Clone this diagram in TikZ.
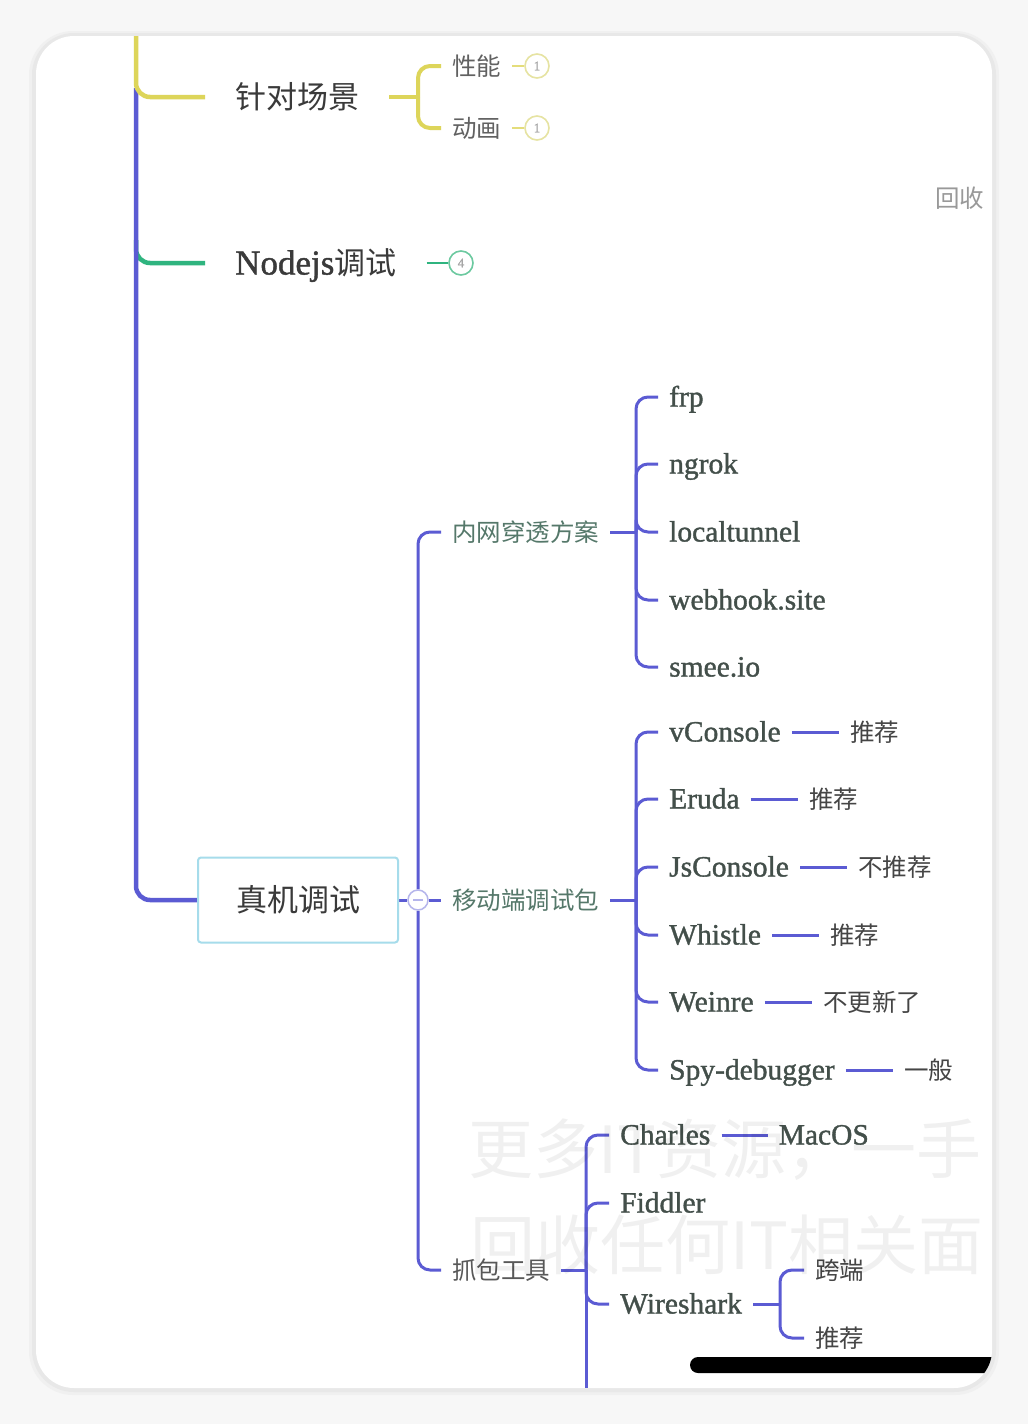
\documentclass[tikz,border=0pt]{standalone}
\usepackage{fontspec}
\setmainfont{Noto Sans CJK SC}
\newfontfamily\lat[FakeBold=1.2]{Liberation Serif}
\usetikzlibrary{positioning}
\pgfdeclarelayer{card}
\pgfdeclarelayer{wires}
\pgfsetlayers{card,wires,main}
\definecolor{mblue}{HTML}{5B5BD3}
\definecolor{myel}{HTML}{DDD55A}
\definecolor{mgrn}{HTML}{2FB47F}
\definecolor{topicgray}{HTML}{3A3A3A}
\definecolor{subgreen}{HTML}{55786A}
\definecolor{leafgray}{HTML}{434F4A}
\definecolor{notegray}{HTML}{454545}
\definecolor{boxline}{HTML}{A6DCEB}
\definecolor{ybadge}{HTML}{E6E3A2}
\definecolor{gbadge}{HTML}{6CC9A0}
\tikzset{
  topic/.style={font=\fontsize{31}{36}\selectfont, text=topicgray, anchor=west,
    inner xsep=30pt, inner ysep=0pt, text height=27pt, text depth=4pt},
  sub/.style={font=\fontsize{24.5}{28}\selectfont, text=notegray, anchor=west,
    inner xsep=11pt, inner ysep=0pt, text height=21.5pt, text depth=3pt},
  leaf/.style={font=\lat\fontsize{29.5}{34}\selectfont, text=leafgray, anchor=west,
    inner xsep=11pt, inner ysep=0pt, text height=19pt, text depth=0pt},
  note/.style={sub},
  box/.style={draw=boxline, line width=2pt, rounded corners=3pt, fill=white,
    minimum width=200pt, minimum height=85pt, font=\fontsize{31}{36}\selectfont,
    text=topicgray},
  badge/.style={circle, draw=#1, line width=1.6pt, fill=white, minimum size=24pt,
    inner sep=0pt, font=\lat\fontsize{13}{14}\selectfont, text=gray!70},
  fold/.style={circle, draw=mblue!45, line width=1.5pt, fill=white, minimum size=20pt,
    inner sep=0pt},
  wmark/.style={font=\fontsize{65}{70}\selectfont, text=black, text opacity=0.06,
    anchor=west, inner sep=0pt},
  trunk/.style={line width=4.5pt, rounded corners=14pt},
  wire/.style={mblue, line width=3pt, rounded corners=12pt},
}
\begin{document}
\begin{tikzpicture}[x=1pt,y=-1pt]
\useasboundingbox (0,0) rectangle (1028,1424);

% phone card
\begin{pgfonlayer}{card}
  \fill[black!3] (0,0) rectangle (1028,1424);
  \fill[black!6,rounded corners=44] (29,31) rectangle (999,1395);
  \fill[black!9,rounded corners=42] (32,33) rectangle (996,1392);
  \fill[white,rounded corners=38] (36,36) rectangle (992,1388);
\end{pgfonlayer}

% first level
\node[topic] (scene) at (205,97) {针对场景};
\node[topic] (nodejs) at (205,263) {{\lat\fontsize{35}{36}\selectfont Nodejs}调试};
\node[box] (real) at (298,900) {真机调试};
\coordinate (ytop) at (136,36);
\coordinate (btop) at (136,88);
\coordinate (gtop) at (136,240);

% scene branch
\node[sub, text=notegray!85] (perf) at (441,66) {性能};
\node[sub, text=notegray!85] (anim) at (441,128) {动画};
\node[badge=ybadge] (perfN) at (537,66) {1};
\node[badge=ybadge] (animN) at (537,128) {1};
\coordinate (sb) at (418,97);
\node[badge=gbadge] (nodeN) at (461,263) {4};

% real device branch
\node[fold] (fold) at (418,900) {};
\node[sub, text=subgreen] (tunnel) at (441,532) {内网穿透方案};
\node[sub, text=subgreen] (mobile) at (441,900) {移动端调试包};
\node[sub, text=notegray!90] (capture) at (441,1270) {抓包工具};

% tunnels
\coordinate (tb) at (636,532);
\node[leaf] (frp) at (658,397) {frp};
\node[leaf] (ngrok) at (658,464) {ngrok};
\node[leaf] (ltun) at (658,532) {localtunnel};
\node[leaf] (hook) at (658,600) {webhook.site};
\node[leaf] (smee) at (658,667) {smee.io};

% mobile debug packages
\coordinate (mb) at (636,900);
\node[leaf] (vcon) at (658,732) {vConsole};
\node[leaf] (eruda) at (658,799) {Eruda};
\node[leaf] (jscon) at (658,867) {JsConsole};
\node[leaf] (whistle) at (658,935) {Whistle};
\node[leaf] (weinre) at (658,1002) {Weinre};
\node[leaf] (spy) at (658,1070) {Spy-debugger};
\node[note, right=47pt of vcon] (vconN) {推荐};
\node[note, right=47pt of eruda] (erudaN) {推荐};
\node[note, right=47pt of jscon] (jsconN) {不推荐};
\node[note, right=47pt of whistle] (whistleN) {推荐};
\node[note, right=47pt of weinre] (weinreN) {不更新了};
\node[note, right=47pt of spy] (spyN) {一般};

% capture tools
\coordinate (cb) at (586,1270);
\coordinate (cmore) at (586,1388);
\node[leaf] (charles) at (609,1135) {Charles};
\node[leaf] (fiddler) at (609,1203) {Fiddler};
\node[leaf] (wire) at (609,1304) {Wireshark};
\node[leaf, right=46pt of charles] (macos) {MacOS};
\coordinate (wb) at (780,1304);
\node[note] (cross) at (804,1270) {跨端};
\node[note] (rec) at (804,1338) {推荐};

% connectors
\begin{pgfonlayer}{wires}
  \draw[trunk, mgrn] (gtop) |- (nodejs.west);
  \draw[trunk, mblue] (btop) |- (real.west);
  \draw[trunk, myel] (ytop) |- (scene.west);
  \draw[wire, myel, line width=4pt] (scene.east) -- (sb);
  \draw[wire, myel, line width=4pt] (sb) |- (perf.west);
  \draw[wire, myel, line width=4pt] (sb) |- (anim.west);
  \draw[myel!80, line width=2.5pt] (perf.east) -- (perfN.west);
  \draw[myel!80, line width=2.5pt] (anim.east) -- (animN.west);
  \draw[mgrn, line width=2.5pt] (nodejs.east) -- (nodeN.west);
  \draw[wire] (real.east) -- (fold.west);
  \draw[wire] (fold.east) -- (mobile.west);
  \draw[wire] (fold) |- (tunnel.west);
  \draw[wire] (fold) |- (capture.west);
  \draw[wire] (tunnel.east) -- (tb);
  \draw[wire] (tb) |- (frp.west);
  \draw[wire] (tb) |- (ngrok.west);
  \draw[wire] (tb) |- (ltun.west);
  \draw[wire] (tb) |- (hook.west);
  \draw[wire] (tb) |- (smee.west);
  \draw[wire] (mobile.east) -- (mb);
  \draw[wire] (mb) |- (vcon.west);
  \draw[wire] (mb) |- (eruda.west);
  \draw[wire] (mb) |- (jscon.west);
  \draw[wire] (mb) |- (whistle.west);
  \draw[wire] (mb) |- (weinre.west);
  \draw[wire] (mb) |- (spy.west);
  \draw[wire] (vcon) -- (vconN);
  \draw[wire] (eruda) -- (erudaN);
  \draw[wire] (jscon) -- (jsconN);
  \draw[wire] (whistle) -- (whistleN);
  \draw[wire] (weinre) -- (weinreN);
  \draw[wire] (spy) -- (spyN);
  \draw[wire] (capture.east) -- (cb);
  \draw[wire] (cb) |- (charles.west);
  \draw[wire] (cb) |- (fiddler.west);
  \draw[wire] (cb) |- (wire.west);
  \draw[wire] (cb) -- (cmore);
  \draw[wire] (charles) -- (macos);
  \draw[wire] (wire.east) -- (wb);
  \draw[wire] (wb) |- (cross.west);
  \draw[wire] (wb) |- (rec.west);
\end{pgfonlayer}
\draw[mblue!45, line width=1.5pt] ([xshift=-5pt]fold.center) -- ([xshift=5pt]fold.center);

% overlay on the screen
\begin{scope}
  \clip[rounded corners=38] (36,36) rectangle (992,1388);
  \node[sub, text=gray!80, inner xsep=0pt] (recycle) at (935,198) {回收};
  \node[wmark] (wm1) at (468,1150) {更多IT资源，一手};
  \node[wmark] (wm2) at (470,1245) {回收任何IT相关面};
  \fill[black, rounded corners=8] (690,1357) rectangle (1010,1373);
\end{scope}
\end{tikzpicture}
\end{document}
